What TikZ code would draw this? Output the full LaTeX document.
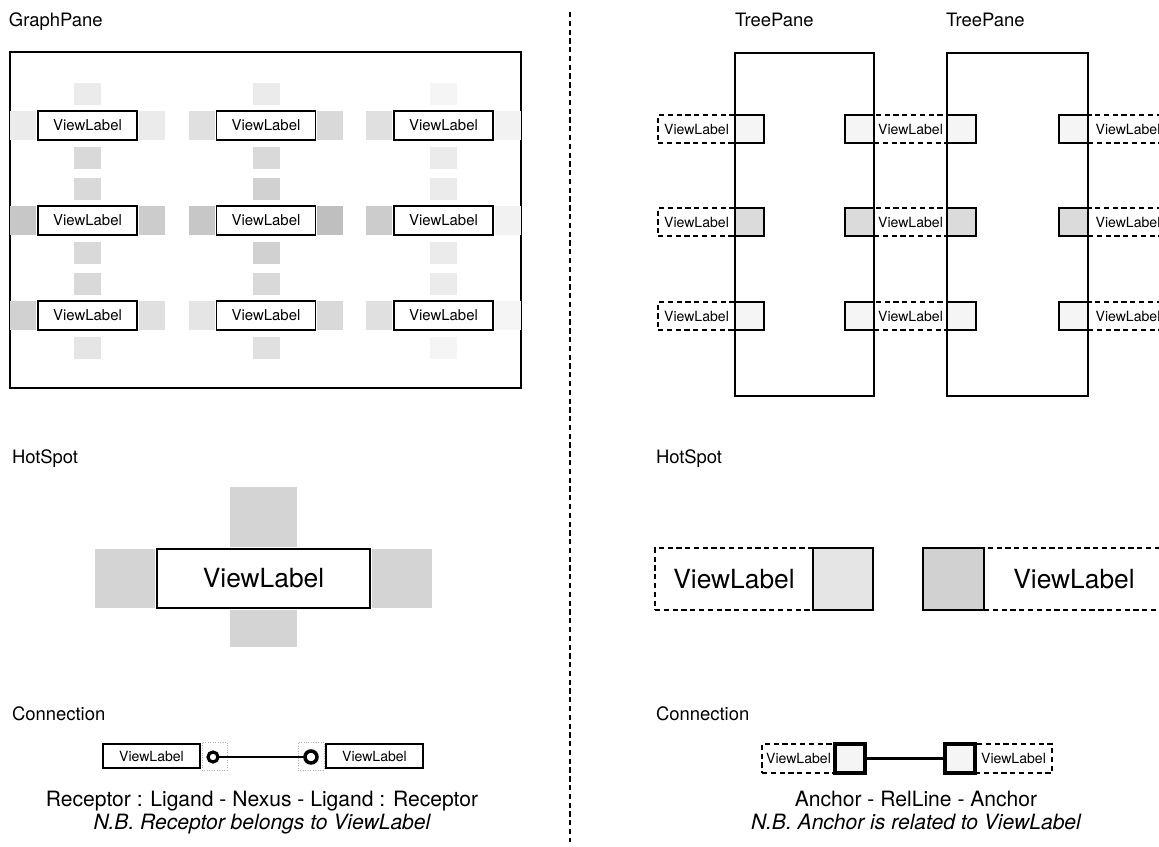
\documentclass[tikz,border=0pt]{standalone}
\usepackage{fontspec}
\setmainfont{TeX Gyre Heros}
\usetikzlibrary{positioning}
\def\vl{ViewLabel}
\def\fs#1{\fontsize{#1}{#1}\selectfont}

\begin{document}
\begin{tikzpicture}[x=0.02cm, y=-0.02cm,
                    every node/.style = {inner sep=0pt, outer sep=0pt},
                    title/.style = {anchor=base west, font=\fs{10.5}},
                    pane/.style = {draw, line width=1.1pt},
                    vlabel/.style = {draw, fill=white, line width=1.1pt,
                      minimum width=1.98cm, minimum height=0.58cm, font=\fs{8.5}},
                    dlabel/.style = {draw, line width=1.1pt, dash pattern=on 3pt off 2pt,
                      minimum height=0.56cm, font=\fs{8}},
                    anchorbox/.style = {draw, line width=1.2pt, fill=black!#1,
                      minimum width=0.58cm, minimum height=0.56cm},
                    hot/.style = {fill=black!#1},
                    hside/.style = {minimum width=0.52cm, minimum height=0.58cm},
                    hcap/.style = {minimum width=0.54cm, minimum height=0.44cm},
                    note/.style = {anchor=base, font=\fs{12}}]
  \useasboundingbox (0,0) rectangle (1159,847);
  \clip (0,0) rectangle (1159,847);

  \node[title] (gpt) at (9,27) {GraphPane};
  \node[pane, minimum width=10.22cm, minimum height=6.72cm] (gp) at (265.5,220) {};
  \foreach \c/\x/\r/\y/\st/\sl/\sr/\sb in {1/87.5/1/125.5/8/8/8/15, 2/266/1/125.5/8/12/15/15,
      3/443.5/1/125.5/4/12/5/8, 1/87.5/2/220.5/15/22/20/15, 2/266/2/220.5/18/22/25/18,
      3/443.5/2/220.5/8/20/5/8, 1/87.5/3/315.5/15/18/12/10, 2/266/3/315.5/15/10/15/12,
      3/443.5/3/315.5/8/12/4/4}
  {
    \node[vlabel] (v\c\r) at (\x,\y) {\vl};
    \node[hot=\sl, hside, left=0.04cm of v\c\r] (hl\c\r) {};
    \node[hot=\sr, hside, right=0.04cm of v\c\r] (hr\c\r) {};
    \node[hot=\st, hcap, above=0.12cm of v\c\r] (ht\c\r) {};
    \node[hot=\sb, hcap, below=0.14cm of v\c\r] (hb\c\r) {};
  }

  \draw[line width=0.9pt, dash pattern=on 3pt off 2pt] (570,12) -- (570,842);

  \node[pane, minimum width=2.78cm, minimum height=6.86cm] (tp1) at (804.5,224.5) {};
  \node[pane, minimum width=2.82cm, minimum height=6.86cm] (tp2) at (1017.5,224.5) {};
  \node[title] (tp1t) at (735,27) {TreePane};
  \node[title] (tp2t) at (946,27) {TreePane};
  \foreach \r/\y/\s in {1/129/4, 2/222/14, 3/316/4}
  {
    \node[dlabel, minimum width=1.54cm] (tl\r) at (696.5,\y) {\vl};
    \node[anchorbox=\s, right=0pt of tl\r] (ta\r) {};
    \node[dlabel, minimum width=1.46cm] (tm\r) at (910.5,\y) {\vl};
    \node[anchorbox=\s, left=0pt of tm\r] (tb\r) {};
    \node[anchorbox=\s, right=0pt of tm\r] (tc\r) {};
    \node[dlabel, minimum width=1.6cm] (tr\r) at (1128,\y) {\vl};
    \node[anchorbox=\s, left=0pt of tr\r] (td\r) {};
  }

  \node[title] (hs1) at (12,463) {HotSpot};
  \node[vlabel, minimum width=4.26cm, minimum height=1.18cm, font=\fs{15}] (big) at (263.5,578.5) {\vl};
  \node[hot=17, minimum width=1.2cm, minimum height=1.18cm, left=0.04cm of big] (bigl) {};
  \node[hot=17, minimum width=1.2cm, minimum height=1.18cm, right=0.04cm of big] (bigr) {};
  \node[hot=17, minimum width=1.34cm, minimum height=1.2cm, above=0.04cm of big] (bigt) {};
  \node[hot=17, minimum width=1.34cm, minimum height=0.74cm, below=0.04cm of big] (bigb) {};

  \node[title] (hs2) at (656,463) {HotSpot};
  \node[dlabel, minimum width=3.16cm, minimum height=1.24cm, font=\fs{15}] (bdl) at (734,579) {\vl};
  \node[anchorbox=10, minimum width=1.2cm, minimum height=1.24cm, right=0pt of bdl] (bda) {};
  \node[dlabel, minimum width=3.6cm, minimum height=1.24cm, font=\fs{15}] (bdr) at (1074,579) {\vl};
  \node[anchorbox=18, minimum width=1.22cm, minimum height=1.24cm, left=0pt of bdr] (bdb) {};

  \node[title] (cn1) at (12,720) {Connection};
  \node[vlabel, minimum width=1.94cm, minimum height=0.48cm, font=\fs{8}] (c1) at (151.5,756) {\vl};
  \node[vlabel, minimum width=1.94cm, minimum height=0.48cm, font=\fs{8}] (c2) at (374.5,756) {\vl};
  \node[draw=black!30, densely dotted, minimum width=0.5cm, minimum height=0.56cm,
        right=0.04cm of c1] (rc1) {};
  \node[draw=black!30, densely dotted, minimum width=0.52cm, minimum height=0.56cm,
        left=0.04cm of c2] (rc2) {};
  \node[circle, draw, fill=white, line width=1.8pt, minimum size=0.2cm] (lg1) at (213,757) {};
  \node[circle, draw, fill=white, line width=2pt, minimum size=0.24cm] (lg2) at (311,757) {};
  \draw[line width=1.7pt] (lg1) -- (lg2);
  \node[note] (r1) at (262,806) {Receptor : Ligand - Nexus - Ligand : Receptor};
  \node[note, font=\fs{12}\itshape] (r2) at (262,829) {N.B. Receptor belongs to ViewLabel};

  \node[title] (cn2) at (656,720) {Connection};
  \node[dlabel, minimum width=1.46cm, minimum height=0.58cm] (cd1) at (798.5,758.5) {\vl};
  \node[anchorbox=4, line width=1.8pt, minimum width=0.6cm, minimum height=0.58cm,
        right=0pt of cd1] (ca1) {};
  \node[dlabel, minimum width=1.54cm, minimum height=0.58cm] (cd2) at (1013.5,758.5) {\vl};
  \node[anchorbox=4, line width=1.8pt, minimum width=0.6cm, minimum height=0.58cm,
        left=0pt of cd2] (ca2) {};
  \draw[line width=1.5pt] (ca1) -- (ca2);
  \node[note] (a1) at (916,806) {Anchor - RelLine - Anchor};
  \node[note, font=\fs{12}\itshape] (a2) at (916,829) {N.B. Anchor is related to ViewLabel};
\end{tikzpicture}
\end{document}
